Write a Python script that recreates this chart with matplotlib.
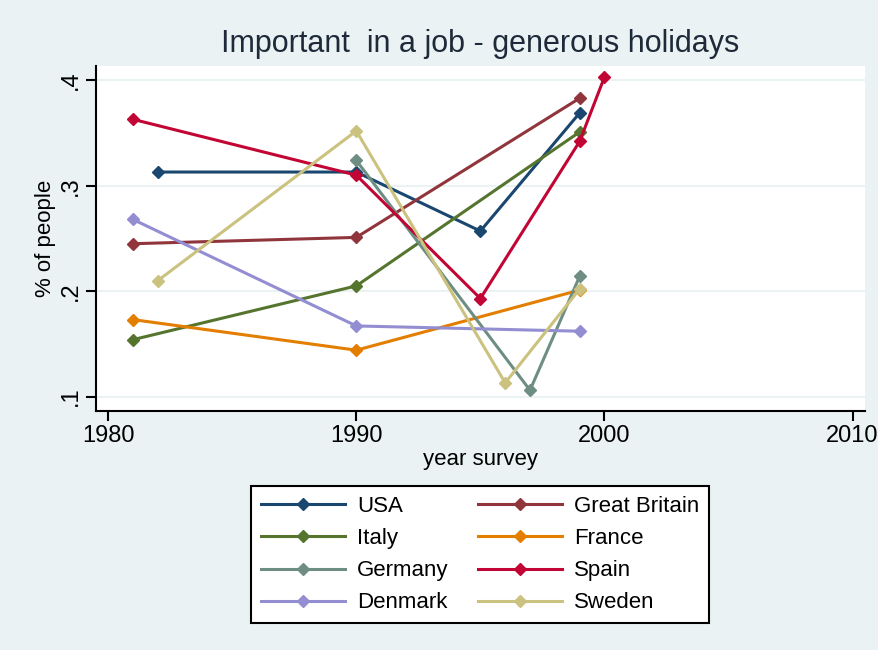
import matplotlib.pyplot as plt

plt.rcParams['font.family'] = ['Liberation Sans', 'DejaVu Sans']

# values (share of people, by survey year)
usa_years = [1982, 1990, 1995, 1999]
usa_vals = [0.313, 0.313, 0.257, 0.369]
gb_years = [1981, 1990, 1999]
gb_vals = [0.245, 0.251, 0.383]
italy_years = [1981, 1990, 1999]
italy_vals = [0.154, 0.205, 0.351]
france_years = [1981, 1990, 1999]
france_vals = [0.173, 0.144, 0.201]
germany_years = [1990, 1997, 1999]
germany_vals = [0.324, 0.106, 0.214]
spain_years = [1981, 1990, 1995, 1999, 2000]
spain_vals = [0.363, 0.310, 0.193, 0.342, 0.403]
denmark_years = [1981, 1990, 1999]
denmark_vals = [0.268, 0.167, 0.162]
sweden_years = [1982, 1990, 1996, 1999]
sweden_vals = [0.210, 0.352, 0.113, 0.202]

series = [
    ("USA", usa_years, usa_vals, "#1a476f"),
    ("Great Britain", gb_years, gb_vals, "#90353b"),
    ("Italy", italy_years, italy_vals, "#55752f"),
    ("France", france_years, france_vals, "#e37e00"),
    ("Germany", germany_years, germany_vals, "#6e8e84"),
    ("Spain", spain_years, spain_vals, "#c10534"),
    ("Denmark", denmark_years, denmark_vals, "#938dd2"),
    ("Sweden", sweden_years, sweden_vals, "#cac27e"),
]

x_ticks = [1980, 1990, 2000, 2010]
y_ticks = [0.1, 0.2, 0.3, 0.4]
y_labels = [".1", ".2", ".3", ".4"]

bg = "#eaf2f3"
fig = plt.figure(figsize=(8.79, 6.5), dpi=100, facecolor=bg)
ax = fig.add_axes([0.109, 0.368, 0.875, 0.530])
ax.set_facecolor("white")

for name, xs, ys, col in series:
    ax.plot(xs, ys, color=col, lw=2.2, marker="D", ms=6, mec=col, mfc=col, label=name)

ax.set_xlim(1979.5, 2010.5)
ax.set_ylim(0.0865, 0.4133)
ax.set_xticks(x_ticks)
ax.set_yticks(y_ticks)
ax.set_yticklabels(y_labels, rotation=90, va="center")
ax.yaxis.grid(True, color=bg, lw=1.5)
ax.set_axisbelow(True)

for s in ["top", "right"]:
    ax.spines[s].set_visible(False)
for s in ["left", "bottom"]:
    ax.spines[s].set_linewidth(1.5)
ax.tick_params(axis="both", direction="out", length=7, width=1.5, labelsize=17, colors="black")
ax.tick_params(axis="y", pad=3)

ax.set_xlabel("year survey", fontsize=16, labelpad=1)
ax.set_ylabel("% of people", fontsize=16, labelpad=3)
ax.set_title("Important  in a job - generous holidays", fontsize=22, color="#1e2a3a", pad=10)

# legend filled row by row like the reference
handles, labels = ax.get_legend_handles_labels()
order = [0, 2, 4, 6, 1, 3, 5, 7]
leg = fig.legend([handles[i] for i in order], [labels[i] for i in order], ncol=2,
                 loc="upper center", bbox_to_anchor=(480 / 879, 1 - 475 / 650), fontsize=16,
                 frameon=True, fancybox=False, framealpha=1, edgecolor="black",
                 handlelength=3.8, handletextpad=0.55, columnspacing=1.3,
                 labelspacing=0.5, borderpad=0.45, numpoints=1)
leg.get_frame().set_linewidth(1.5)

fig.savefig("out.png", dpi=100, facecolor=bg)
